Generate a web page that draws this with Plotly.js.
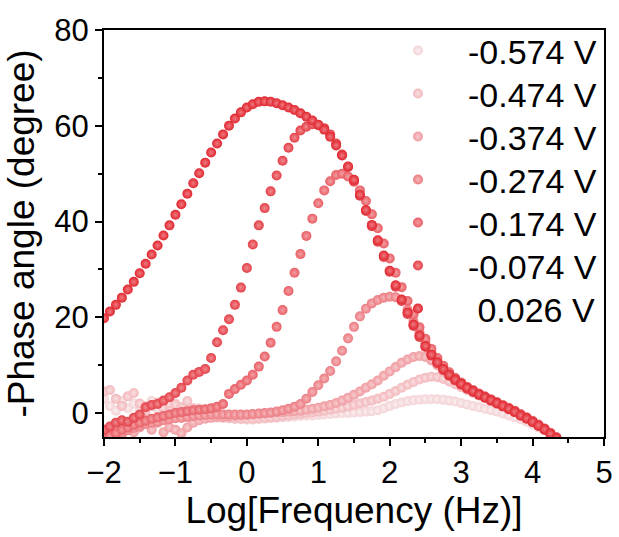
<!DOCTYPE html>
<html>
<head>
<meta charset="utf-8">
<script src="https://cdn.plot.ly/plotly-3.0.1.min.js"></script>
<style>
html,body{margin:0;padding:0;background:#fff;}
#chart{width:619px;height:537px;}
</style>
</head>
<body>
<div id="chart"></div>
<script>
// log10(frequency / Hz)
var logFreq = [-2, -1.917, -1.833, -1.75, -1.667, -1.583, -1.5, -1.417, -1.333, -1.25, -1.167, -1.083,
  -1, -0.917, -0.833, -0.75, -0.667, -0.583, -0.5, -0.417, -0.333, -0.25, -0.167, -0.083,
  0, 0.083, 0.167, 0.25, 0.333, 0.417, 0.5, 0.583, 0.667, 0.75, 0.833, 0.917,
  1, 1.083, 1.167, 1.25, 1.333, 1.417, 1.5, 1.583, 1.667, 1.75, 1.833, 1.917,
  2, 2.083, 2.167, 2.25, 2.333, 2.417, 2.5, 2.583, 2.667, 2.75, 2.833, 2.917,
  3, 3.083, 3.167, 3.25, 3.333, 3.417, 3.5, 3.583, 3.667, 3.75, 3.833, 3.917,
  4, 4.083, 4.167, 4.25, 4.333];

var seriesNames = ["-0.574 V", "-0.474 V", "-0.374 V", "-0.274 V", "-0.174 V", "-0.074 V", "\u00a00.026 V"];

var phase_m0574 = [3.0, 1.5, 0.5, 2.5, 1.0, 2.0, 0.5, 1.5, 2.5, 0.8, 1.8, 1.2,
  2.0, 1.0, 1.5, 0.5, 1.0, 0.3, 0.0, -0.5, -0.8, -1.0, -1.2, -1.3,
  -1.4, -1.4, -1.3, -1.2, -1.1, -1.0, -0.9, -0.8, -0.7, -0.6, -0.5, -0.5,
  -0.4, -0.3, -0.2, -0.1, 0.0, 0.0, 0.1, 0.2, 0.3, 0.4, 0.6, 1.0,
  1.5, 1.9, 2.2, 2.5, 2.7, 2.8, 2.9, 2.9, 2.9, 2.8, 2.6, 2.4,
  2.1, 1.8, 1.5, 1.2, 0.9, 0.6, 0.3, -0.1, -0.5, -0.9, -1.3, -1.8,
  -2.4, -3.0, -3.6, -4.4, -5.2];

var phase_m0474 = [4.5, 4.8, 3.0, 1.5, 3.5, 4.2, 2.0, 0.5, 1.5, 2.2, 1.0, 0.5,
  1.8, 1.2, 2.5, 1.0, 0.5, 0.0, -0.5, -0.8, -1.0, -1.1, -1.2, -1.2,
  -1.2, -1.2, -1.1, -1.0, -0.9, -0.8, -0.6, -0.5, -0.3, -0.2, 0.0, 0.1,
  0.3, 0.5, 0.7, 0.9, 1.1, 1.4, 1.7, 2.0, 2.3, 2.6, 3.0, 3.4,
  4.0, 4.6, 5.3, 5.9, 6.5, 7.0, 7.4, 7.6, 7.5, 7.1, 6.6, 6.0,
  5.4, 4.8, 4.2, 3.6, 3.1, 2.5, 1.9, 1.3, 0.7, 0.1, -0.6, -1.2,
  -1.9, -2.7, -3.5, -4.4, -5.3];

var phase_m0374 = [-4.0, -5.5, -3.0, -4.8, -2.5, -4.0, -3.0, -1.5, -3.5, -2.0, -4.0, -3.0,
  -3.5, -4.2, -3.0, -2.0, -1.5, -1.2, -1.0, -0.9, -0.8, -0.7, -0.6, -0.5,
  -0.4, -0.3, -0.2, -0.1, 0.0, 0.1, 0.2, 0.3, 0.4, 0.5, 0.7, 0.9,
  1.1, 1.4, 1.7, 2.1, 2.6, 3.2, 3.8, 4.5, 5.3, 6.0, 6.8, 7.8,
  8.7, 9.6, 10.5, 11.2, 11.7, 11.9, 11.7, 11.0, 10.0, 8.9, 7.8, 6.9,
  6.0, 5.2, 4.5, 3.9, 3.3, 2.7, 2.1, 1.5, 0.9, 0.3, -0.4, -1.1,
  -1.8, -2.6, -3.4, -4.3, -5.2];

var phase_m0274 = [-5.5, -5.0, -4.6, -4.1, -3.6, -3.1, -2.7, -2.3, -2.0, -1.8, -1.5, -1.3,
  -1.1, -1.0, -0.8, -0.6, -0.5, -0.4, -0.3, -0.3, -0.3, -0.3, -0.3, -0.3,
  -0.3, -0.2, -0.1, 0.0, 0.1, 0.3, 0.6, 0.9, 1.3, 1.9, 3.0, 4.4,
  5.8, 7.2, 8.8, 10.8, 13.0, 15.6, 18.0, 20.2, 21.8, 22.9, 23.6, 24.1,
  24.3, 24.2, 23.5, 21.6, 19.2, 16.8, 14.6, 12.7, 11.0, 9.6, 8.4, 7.3,
  6.4, 5.5, 4.8, 4.1, 3.5, 2.9, 2.3, 1.7, 1.1, 0.5, -0.2, -0.9,
  -1.6, -2.4, -3.2, -4.1, -5.0];

var phase_m0174 = [-5.5, -4.8, -4.2, -3.5, -3.0, -2.5, -2.0, -1.6, -1.2, -0.9, -0.6, -0.3,
  0.0, 0.2, 0.4, 0.6, 0.7, 0.8, 1.0, 1.3, 1.9, 4.0, 5.0, 5.9,
  6.8, 8.0, 9.7, 11.8, 14.7, 18.0, 21.5, 25.5, 29.3, 33.2, 37.0, 40.6,
  43.8, 46.5, 48.4, 49.7, 50.0, 49.4, 48.3, 46.5, 44.3, 41.5, 38.6, 35.4,
  32.3, 29.3, 26.3, 23.4, 20.6, 17.9, 15.5, 13.4, 11.5, 9.9, 8.5, 7.3,
  6.3, 5.4, 4.7, 4.0, 3.4, 2.8, 2.2, 1.6, 1.0, 0.4, -0.3, -1.0,
  -1.7, -2.5, -3.3, -4.2, -5.1];

var phase_m0074 = [-3.5, -2.8, -2.0, -1.5, -1.8, -1.0, -0.3, 1.2, 1.7, 1.9, 2.6, 3.3,
  4.2, 5.3, 6.8, 8.0, 8.6, 9.2, 11.5, 14.8, 17.3, 19.6, 22.6, 26.2,
  30.3, 35.2, 39.2, 42.8, 46.3, 49.6, 52.7, 55.4, 57.5, 59.0, 59.8, 60.3,
  60.1, 59.5, 58.2, 56.3, 54.0, 51.4, 48.5, 45.4, 42.2, 39.0, 35.8, 32.6,
  29.5, 26.4, 23.4, 20.7, 18.2, 15.9, 13.8, 12.0, 10.4, 9.0, 7.8, 6.8,
  5.9, 5.1, 4.4, 3.8, 3.2, 2.6, 2.0, 1.4, 0.8, 0.2, -0.5, -1.2,
  -1.9, -2.7, -3.5, -4.4, -5.3];

var phase_p0026 = [19.8, 21.2, 22.6, 24.1, 25.8, 27.4, 29.2, 31.2, 33.1, 35.0, 37.1, 39.2,
  41.4, 43.6, 45.8, 48.0, 50.1, 52.3, 54.4, 56.3, 58.2, 60.0, 61.5, 62.8,
  63.8, 64.5, 65.0, 65.1, 65.0, 64.7, 64.3, 63.8, 63.3, 62.6, 61.9, 61.1,
  60.2, 59.2, 57.7, 55.9, 53.8, 51.5, 48.7, 45.6, 42.4, 39.3, 36.1, 32.9,
  29.7, 26.7, 23.7, 21.0, 18.5, 16.2, 14.0, 12.2, 10.6, 9.2, 8.0, 7.0,
  6.1, 5.3, 4.6, 3.9, 3.3, 2.7, 2.1, 1.5, 0.9, 0.3, -0.5, -1.1,
  -1.8, -2.6, -3.4, -4.3, -5.2];

var xTickVals = [-2, -1, 0, 1, 2, 3, 4, 5];
var yTickVals = [0, 20, 40, 60, 80];

var seriesValues = [phase_m0574, phase_m0474, phase_m0374, phase_m0274, phase_m0174, phase_m0074, phase_p0026];
var baseColors = ["#f3d3d6", "#f2b8bc", "#ef9ba0", "#eb7c82", "#e85e65", "#e43f47", "#e0252e"];
var hiColors   = ["#fbeff0", "#f9e0e2", "#f7ccce", "#f5b5b8", "#f39ea2", "#f08a8f", "#f07a80"];
// legend row positions (paper y of each legend entry centre)
var legendRowY = [0.9485, 0.8428, 0.7372, 0.6315, 0.5259, 0.4202, 0.3146];

var FONT = "Liberation Sans, Arial, Helvetica, sans-serif";

var traces = seriesValues.map(function (vals, i) {
  return {
    type: "scatter",
    mode: "markers",
    name: seriesNames[i],
    legend: i === 0 ? "legend" : "legend" + (i + 1),
    x: logFreq,
    y: vals,
    cliponaxis: true,
    marker: {
      size: 10,
      color: baseColors[i],
      line: {width: 0},
      gradient: {type: "radial", color: hiColors[i]}
    }
  };
});

var axisCommon = {
  showgrid: false,
  zeroline: false,
  showline: true,
  linecolor: "#000",
  linewidth: 2,
  mirror: true,
  ticks: "outside",
  ticklen: 7,
  tickwidth: 2,
  tickcolor: "#000",
  tickfont: {family: FONT, size: 31, color: "#000"}
};

var layout = {
  width: 619,
  height: 537,
  margin: {l: 104, r: 15, t: 30, b: 100},
  paper_bgcolor: "#fff",
  plot_bgcolor: "#fff",
  font: {family: FONT, color: "#000"},
  showlegend: true,
  xaxis: Object.assign({}, axisCommon, {
    range: [-2, 5],
    tickmode: "array",
    tickvals: xTickVals,
    minor: {dtick: 0.5, ticks: "outside", ticklen: 4, tickwidth: 2, tickcolor: "#000"},
    title: {text: "Log[Frequency (Hz)]", font: {family: FONT, size: 37, color: "#000"}, standoff: 7}
  }),
  yaxis: Object.assign({}, axisCommon, {
    range: [-5, 80],
    tickmode: "array",
    tickvals: yTickVals,
    minor: {dtick: 10, tick0: 0, ticks: "outside", ticklen: 4, tickwidth: 2, tickcolor: "#000"},
    title: {text: "-Phase angle (degree)", font: {family: FONT, size: 37, color: "#000"}, standoff: 8}
  })
};

legendRowY.forEach(function (yv, i) {
  var key = i === 0 ? "legend" : "legend" + (i + 1);
  layout[key] = {
    x: 0.528, y: yv, xanchor: "left", yanchor: "middle",
    bgcolor: "rgba(0,0,0,0)",
    borderwidth: 0,
    itemwidth: 90,
    font: {family: FONT, size: 34, color: "#000"}
  };
});

Plotly.newPlot("chart", traces, layout, {displayModeBar: false, staticPlot: true});
</script>
</body>
</html>
